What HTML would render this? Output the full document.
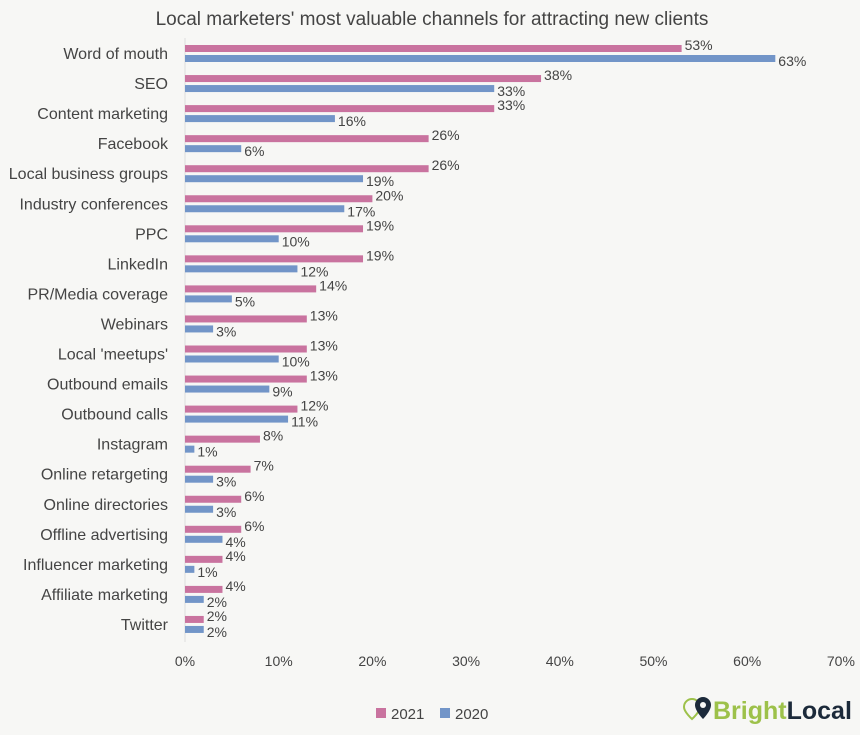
<!DOCTYPE html>
<html><head><meta charset="utf-8"><style>
body{margin:0;background:#f7f7f5;font-family:"Liberation Sans",sans-serif;}
svg text{font-family:"Liberation Sans",sans-serif;fill:#444;}
</style></head><body>
<svg width="860" height="730" xmlns="http://www.w3.org/2000/svg">
<rect width="860" height="730" fill="#f7f7f5"/>
<text x="432" y="25" text-anchor="middle" font-size="19">Local marketers' most valuable channels for attracting new clients</text>
<g id="plot"></g>
<g>
<rect x="376" y="708" width="10" height="10" fill="#c9739f"/>
<text x="391" y="719" font-size="15">2021</text>
<rect x="440" y="708" width="10" height="10" fill="#7295c8"/>
<text x="455" y="719" font-size="15">2020</text>
</g>
<g>
<path d="M692 699 a8 8 0 0 1 8 8 c0 5-8 12-8 12 c0 0-8-7-8-12 a8 8 0 0 1 8-8z" fill="none" stroke="#9dc14a" stroke-width="2"/>
<path d="M703 697 a8 8 0 0 1 8 8 c0 6-8 14-8 14 c0 0-8-8-8-14 a8 8 0 0 1 8-8z" fill="#1c2a3a"/>
<circle cx="703" cy="705" r="3" fill="#f7f7f5"/>
<text x="713" y="719" font-size="25" font-weight="bold" style="fill:#9dc14a">Bright<tspan style="fill:#1c2a3a">Local</tspan></text>
</g>
</svg>
<script>
const categories=["Word of mouth","SEO","Content marketing","Facebook","Local business groups","Industry conferences","PPC","LinkedIn","PR/Media coverage","Webinars","Local 'meetups'","Outbound emails","Outbound calls","Instagram","Online retargeting","Online directories","Offline advertising","Influencer marketing","Affiliate marketing","Twitter"];
const values2021=[53,38,33,26,26,20,19,19,14,13,13,13,12,8,7,6,6,4,4,2];
const values2020=[63,33,16,6,19,17,10,12,5,3,10,9,11,1,3,3,4,1,2,2];
const tickValues=[0,10,20,30,40,50,60,70];
const NS="http://www.w3.org/2000/svg";
const g=document.getElementById('plot');
const x=v=>185+v*9.37;
const y=i=>53+i*30.05;
function el(t,a){const e=document.createElementNS(NS,t);for(const k in a)e.setAttribute(k,a[k]);g.appendChild(e);return e;}
const ax=el('line',{x1:185,x2:185,y1:38,y2:642,stroke:'#ddd','stroke-width':1});


tickValues.forEach(t=>{const e=el('text',{x:x(t),y:666,'text-anchor':'middle','font-size':14});e.textContent=t+'%';

});
categories.forEach((c,i)=>{
const l=el('text',{x:168,y:y(i)+6,'text-anchor':'end','font-size':16});l.textContent=c;


const b1=el('rect',{x:185,y:y(i)-8,width:x(values2021[i])-185,height:7,fill:'#c9739f'});


const b2=el('rect',{x:185,y:y(i)+2,width:x(values2020[i])-185,height:7,fill:'#7295c8'});


const t1=el('text',{x:x(values2021[i])+3,y:y(i)-3,'font-size':14});t1.textContent=values2021[i]+'%';


const t2=el('text',{x:x(values2020[i])+3,y:y(i)+13,'font-size':14});t2.textContent=values2020[i]+'%';


});
</script>
</body></html>
